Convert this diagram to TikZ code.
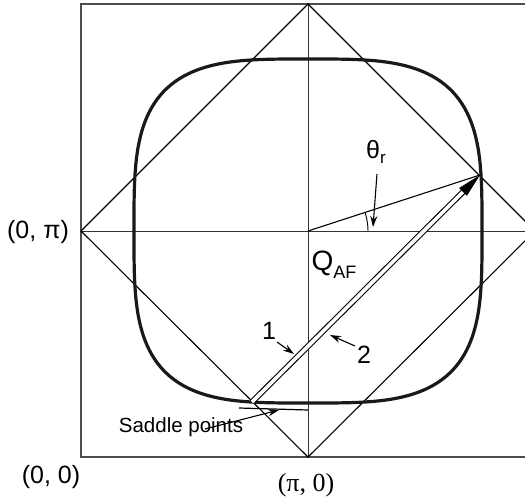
\documentclass[tikz,border=0pt]{standalone}
\usepackage{fontspec}
\setmainfont{Liberation Sans}
\newfontfamily\seriffam{Liberation Serif}
\usetikzlibrary{calc,arrows.meta}
\begin{document}
\begin{tikzpicture}[x=1pt,y=-1pt,
  frame/.style={draw=black!70, line width=1.1pt},
  axis/.style={draw=black!80, line width=1pt},
  thin/.style={draw=black, line width=1.1pt},
  fermi/.style={draw=black!90, line width=3.2pt},
  lbl/.style={font=\fontsize{25}{28}\selectfont, inner sep=0pt},
  small/.style={font=\fontsize{20.5}{24}\selectfont, inner sep=0pt},
  ptr/.style={draw=black, line width=1.1pt, -{Stealth[length=11pt,width=7pt]}}]
\useasboundingbox (0,0) rectangle (525,498);
\begin{scope}
\clip (0,0) rectangle (525,498);
% key points
\coordinate (C) at (308,231);
\coordinate (Top) at (308,4);
\coordinate (Bot) at (308,457);
\coordinate (L) at (81,231);
\coordinate (R) at (535,231);
\coordinate (TL) at (81,4);
\coordinate (TR) at (535,4);
\coordinate (BL) at (81,457);
\coordinate (BR) at (535,457);
% frame
\draw[frame] (TR) -- (TL) -- (BL) -- (BR);
% axes
\draw[axis] (Top) -- (Bot);
\draw[axis] (L) -- (R);
% diamond
\draw[thin, line join=miter] (Top) -- (R) -- (Bot) -- (L) -- cycle;
% Fermi surface (superellipse)
\draw[fermi] plot[domain=1:359, samples=180, smooth cycle]
  ({308 + 174*cos(\x)*exp(-0.4286*ln(abs(cos(\x))))},
   {231 + 172*sin(\x)*exp(-0.4286*ln(abs(sin(\x))))});
\end{scope}
% nesting vector
\coordinate (S) at (252,402);
\coordinate (T) at (480,175);
\coordinate (Tb) at ($(T)!24pt!(S)$);
\draw[thin, line width=1.1pt, double distance=3.6pt] (S) -- ($(T)!16pt!(S)$);
\fill[black] (T) -- ($(Tb)!5.5pt!90:(T)$) -- ($(Tb)!5.5pt!-90:(T)$) -- cycle;
% radius line and angle
\draw[thin] (C) -- (T);
\draw[thin, line width=0.9pt] ($(C)+(60,0)$) arc[start angle=0, end angle=-18, radius=60];
% labels
\node[lbl] (theta) at (376,152) {θ\raisebox{-0.22em}{\fontsize{17}{17}\selectfont r}};
\coordinate (thA) at (377,174);
\coordinate (thB) at (373,227);
\draw[ptr] (thA) -- (thB);
\node[lbl, font=\fontsize{28}{30}\selectfont] (Q) at (334,265) {Q\raisebox{-0.28em}{\fontsize{18}{18}\selectfont AF}};
\node[lbl] (one) at (269,331) {1};
\coordinate (oneA) at (277,342);
\coordinate (oneB) at (294,354);
\draw[ptr] (oneA) -- (oneB);
\node[lbl] (two) at (364,355) {2};
\coordinate (twoA) at (355,346);
\coordinate (twoB) at (330,335);
\draw[ptr] (twoA) -- (twoB);
% saddle points
\coordinate (hA) at (239,408);
\coordinate (hB) at (308,410);
\draw[thin, line width=1.2pt] (hA) -- (hB);
\node[small] (saddle) at (181,427) {Saddle points};
\coordinate (sA) at (205,429);
\coordinate (sB) at (279,410);
\draw[ptr] (sA) -- (sB);
% corner labels
\node[lbl] (p0pi) at (38,232) {(0, π)};
\node[lbl] (p00) at (51,477) {(0, 0)};
\node[lbl, font=\seriffam\fontsize{26}{28}\selectfont] (ppi0) at (306,485) {(π, 0)};
\end{tikzpicture}
\end{document}
